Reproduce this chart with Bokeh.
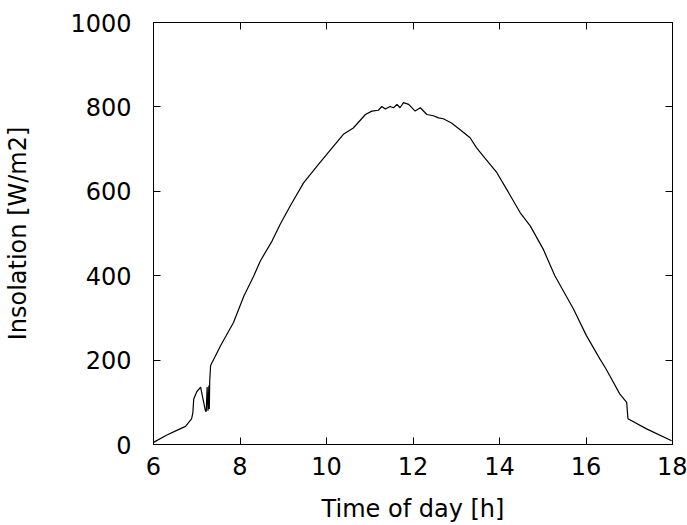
from bokeh.plotting import figure
from bokeh.models import LinearAxis, FixedTicker, Range1d
from bokeh.embed import file_html
from bokeh.resources import INLINE

# Time of day [h]
hours = [6.00, 6.30, 6.55, 6.74, 6.88, 6.91, 6.93, 7.00, 7.09, 7.12, 7.20, 7.22,
         7.24, 7.26, 7.28, 7.29, 7.30, 7.32, 7.55, 7.85, 8.09, 8.32, 8.47, 8.74,
         8.93, 9.16, 9.47, 9.80, 10.13, 10.39, 10.62, 10.90, 11.05, 11.20, 11.28,
         11.36, 11.47, 11.55, 11.63, 11.70, 11.78, 11.90, 12.05, 12.17, 12.32,
         12.47, 12.59, 12.70, 12.89, 13.09, 13.32, 13.47, 13.63, 13.94, 14.17,
         14.48, 14.71, 15.01, 15.28, 15.71, 16.01, 16.32, 16.44, 16.55, 16.78,
         16.94, 16.97, 17.40, 17.98]
# Insolation [W/m2]
insolation = [5, 22, 34, 43, 61, 75, 108, 125, 136, 120, 80, 78,
              136, 80, 140, 84, 150, 187, 234, 289, 352, 400, 435, 482,
              522, 565, 620, 662, 703, 735, 750, 782, 790, 792, 801,
              795, 801, 798, 806, 798, 810, 806, 790, 798, 782,
              779, 774, 772, 762, 746, 727, 703, 683, 644, 604,
              549, 518, 463, 400, 321, 258, 203, 183, 163, 120,
              100, 61, 37, 9]

x_ticks = [6, 8, 10, 12, 14, 16, 18]
y_ticks = [0, 200, 400, 600, 800, 1000]

FONT = "DejaVu Sans"
FS = "24px"

p = figure(width=687, height=525, output_backend="svg", toolbar_location=None,
           x_range=Range1d(6, 18), y_range=Range1d(0, 1000),
           min_border_left=153, min_border_right=15, min_border_top=22,
           min_border_bottom=80, background_fill_color="white",
           border_fill_color="white")
p.xgrid.visible = False
p.ygrid.visible = False
p.outline_line_color = "black"
p.outline_line_width = 1

p.line(hours, insolation, line_color="black", line_width=1.2)

def style(ax, ticks, labels=True):
    ax.ticker = FixedTicker(ticks=ticks)
    ax.major_tick_in = 7
    ax.major_tick_out = 0
    ax.minor_tick_in = 0
    ax.minor_tick_out = 0
    ax.axis_line_color = "black"
    ax.major_tick_line_color = "black"
    ax.major_label_text_font = FONT
    ax.major_label_text_font_size = FS
    ax.major_label_text_color = "black"
    ax.axis_label_text_font = FONT
    ax.axis_label_text_font_size = FS
    ax.axis_label_text_font_style = "normal"
    ax.axis_label_text_color = "black"
    if not labels:
        ax.major_label_overrides = {t: "" for t in ticks}
        ax.major_label_standoff = 0

xa = p.xaxis[0]
style(xa, x_ticks)
xa.axis_label = "Time of day [h]"
xa.major_label_standoff = 12
xa.axis_label_standoff = 17

ya = p.yaxis[0]
style(ya, y_ticks)
ya.axis_label = "Insolation [W/m2]"
ya.major_label_standoff = 22
ya.axis_label_standoff = 35

top = LinearAxis()
style(top, x_ticks, labels=False)
p.add_layout(top, "above")
right = LinearAxis()
style(right, y_ticks, labels=False)
p.add_layout(right, "right")

open("out.html", "w").write(file_html(p, INLINE))
